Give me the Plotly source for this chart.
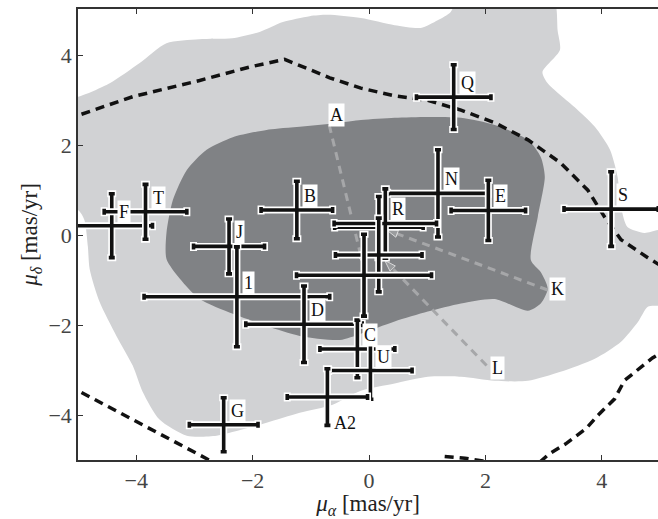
import plotly.graph_objects as go

# ---------------- data ----------------
# proper-motion crosses (mu_alpha, mu_delta) with errors
names = ["F", "T", "B", "J", "1", "D", "C", "U", "A2", "G", "Q", "N", "E", "S", "", "R", "", ""]
mu_a = [-4.42, -3.84, -1.24, -2.405, -2.27, -1.117, -0.20, 0.024, -0.715, -2.497, 1.455, 1.185, 2.05, 4.16, 0.17, 0.28, 0.167, -0.086]
mu_d = [0.21, 0.52, 0.56, -0.25, -1.37, -1.98, -2.53, -3.01, -3.60, -4.215, 3.07, 0.93, 0.55, 0.58, 0.18, 0.26, -0.44, -0.89]
err_a = [0.70, 0.71, 0.615, 0.61, 1.595, 1.00, 0.644, 0.716, 0.69, 0.59, 0.64, 0.865, 0.64, 0.81, 0.76, 0.88, 0.744, 1.16]
err_d = [0.71, 0.61, 0.64, 0.61, 1.11, 0.85, 0.64, 0.64, 0.63, 0.60, 0.72, 0.97, 0.67, 0.83, 0.68, 0.77, 0.82, 0.91]
labels_below = ["A2"]

# likelihood regions (outer = light, inner = dark)
outer_x = [-5.3, -5.0, -4.455, -3.94, -3.48, -2.92, -2.35, -1.88, -1.48, -1.02, -0.71, -0.14, 0.44, 0.89,
           1.18, 1.40, 1.50, 1.60, 3.10, 3.21, 3.24, 3.28, 2.98, 3.07, 3.53, 3.88, 4.14, 4.27, 4.33, 4.44,
           4.73, 5.00, 5.30, 5.30, 4.96, 4.79, 4.62, 4.33, 3.88, 3.29, 2.73, 2.16, 1.58, 1.01, 0.44, -0.14,
           -0.625, -1.19, -1.76, -2.20, -2.62, -3.13, -3.60, -3.89, -4.06, -4.34, -4.63, -4.80, -4.83, -4.89,
           -5.00, -5.30]
outer_y = [3.08, 3.08, 3.38, 3.83, 4.27, 4.36, 4.38, 4.52, 4.74, 4.87, 4.90, 4.83, 4.67, 4.61,
           4.78, 4.96, 5.20, 5.30, 5.30, 5.10, 4.56, 4.12, 3.63, 3.38, 2.85, 2.41, 1.90, 1.30, 0.63, 0.18,
           0.05, 0.12, 0.12, -1.57, -1.57, -1.59, -1.93, -2.37, -2.75, -3.04, -3.24, -3.24, -3.15, -3.15, -3.30, -3.46,
           -3.77, -3.95, -4.17, -4.33, -4.46, -4.46, -4.10, -3.48, -2.90, -2.24, -1.48, -0.75, -0.26, 0.34,
           0.56, 0.60]
inner_x = [-0.70, -0.14, 0.44, 1.01, 1.58, 2.16, 2.73, 2.95, 3.02, 2.90, 2.78, 2.95, 3.07, 2.95, 2.73, 2.16,
           1.58, 1.01, 0.44, -0.14, -0.50, -1.19, -1.76, -2.34, -2.91, -3.25, -3.48, -3.48, -3.37, -3.13,
           -2.79, -2.34, -1.76, -1.19]
inner_y = [2.47, 2.56, 2.61, 2.63, 2.61, 2.45, 2.12, 1.74, 1.30, 0.41, -0.55, -0.82, -1.19, -1.52, -1.68, -1.42,
           -1.52, -1.70, -1.92, -2.19, -2.33, -2.24, -2.02, -1.75, -1.42, -0.97, -0.53, 0.05, 0.78, 1.45,
           1.90, 2.18, 2.34, 2.41]

# dashed boundary curves
curve1_x = [-4.94, -4.06, -2.91, -2.05, -1.45, -0.675, -0.14, 0.44, 1.01, 1.58, 2.16, 2.73, 3.29, 3.76, 4.05, 4.33, 4.79, 5.10]
curve1_y = [2.69, 3.08, 3.44, 3.74, 3.91, 3.50, 3.27, 3.10, 3.00, 2.78, 2.50, 2.12, 1.61, 1.00, 0.40, -0.10, -0.50, -0.75]
curve2_x = [-4.94, -3.67, -2.79, -2.60]
curve2_y = [-3.50, -4.36, -4.97, -5.12]
curve3_x = [1.30, 1.65, 1.95, 2.40, 2.80, 3.10, 3.38, 3.73, 3.96, 4.22, 4.39, 4.65, 4.87, 5.10]
curve3_y = [-4.92, -4.96, -5.02, -5.40, -5.20, -4.86, -4.64, -4.30, -3.97, -3.64, -3.23, -2.96, -2.73, -2.55]

# grey arrows
arrow_names = ["A", "K", "L"]
arrow_x0 = [-0.684, 3.07, 2.02]
arrow_y0 = [2.45, -1.22, -2.90]
arrow_x1 = [-0.11, 0.30, 0.27]
arrow_y1 = [-0.62, 0.12, -0.56]
arrow_label_x = [-0.56, 3.24, 2.21]
arrow_label_y = [2.67, -1.20, -2.95]

x_ticks = [-4, -2, 0, 2, 4]
y_ticks = [-4, -2, 0, 2, 4]

# ---------------- figure ----------------
FONT = "Liberation Serif, Times New Roman, DejaVu Serif, serif"
LIGHT = "#d1d2d4"
DARK = "#808285"

fig = go.Figure()
fig.add_trace(go.Scatter(x=outer_x, y=outer_y, fill="toself", fillcolor=LIGHT, mode="lines",
                         line=dict(width=0, color=LIGHT, shape="spline", smoothing=0.7),
                         hoverinfo="skip", showlegend=False))
fig.add_trace(go.Scatter(x=inner_x, y=inner_y, fill="toself", fillcolor=DARK, mode="lines",
                         line=dict(width=0, color=DARK, shape="spline", smoothing=0.7),
                         hoverinfo="skip", showlegend=False))
for cx, cy in [(curve1_x, curve1_y), (curve2_x, curve2_y), (curve3_x, curve3_y)]:
    fig.add_trace(go.Scatter(x=cx, y=cy, mode="lines",
                             line=dict(color="#111", width=3.5, dash="9px,6px"),
                             hoverinfo="skip", showlegend=False))

for i in range(len(arrow_names)):
    fig.add_trace(go.Scatter(x=[arrow_x0[i], arrow_x1[i]], y=[arrow_y0[i], arrow_y1[i]],
                             mode="lines+markers",
                             line=dict(color="#a6a7a9", width=3, dash="8px,6px"),
                             marker=dict(symbol="arrow", angleref="previous", size=[0, 12],
                                         color="#a6a7a9"),
                             hoverinfo="skip", showlegend=False))

for i in range(len(names)):
    for col, th, wd in [("white", 7, 4.5), ("#111", 3.6, 3)]:
        fig.add_trace(go.Scatter(
            x=[mu_a[i]], y=[mu_d[i]], mode="markers",
            marker=dict(size=1, color=col, opacity=0),
            error_x=dict(type="data", array=[err_a[i]], color=col, thickness=th, width=wd),
            error_y=dict(type="data", array=[err_d[i]], color=col, thickness=th, width=wd),
            hoverinfo="skip", showlegend=False))

annotations = []
for i, nm in enumerate(names):
    if not nm:
        continue
    below = nm in labels_below
    annotations.append(dict(
        x=mu_a[i], y=mu_d[i], xref="x", yref="y", text=nm, showarrow=False,
        xanchor="left", yanchor="top" if below else "bottom",
        xshift=5, yshift=-14 if below else 2,
        bgcolor="white", borderpad=1,
        font=dict(family=FONT, size=18, color="#111")))
for i, nm in enumerate(arrow_names):
    annotations.append(dict(
        x=arrow_label_x[i], y=arrow_label_y[i], xref="x", yref="y", text=nm, showarrow=False,
        xanchor="center", yanchor="middle", bgcolor="white", borderpad=1,
        font=dict(family=FONT, size=18, color="#111")))

fig.update_layout(
    width=658, height=519,
    margin=dict(l=78, r=0, t=9, b=59),
    plot_bgcolor="white", paper_bgcolor="white",
    font=dict(family=FONT, color="#333"),
    annotations=annotations,
    showlegend=False,
)
fig.update_xaxes(range=[-5, 4.965], tickvals=x_ticks, ticks="inside", ticklen=5, tickwidth=1,
                 tickcolor="#333", showline=True, linecolor="#333", linewidth=1.5, mirror="ticks",
                 showgrid=False, zeroline=False, tickfont=dict(family=FONT, size=22, color="#444"),
                 title=dict(text="<i>μ</i><sub><i>α</i></sub> [mas/yr]", standoff=4,
                            font=dict(family=FONT, size=23, color="#222")))
fig.update_yaxes(range=[-5, 5.03], tickvals=y_ticks, ticks="inside", ticklen=5, tickwidth=1,
                 tickcolor="#333", showline=True, linecolor="#333", linewidth=1.5, mirror=False,
                 showgrid=False, zeroline=False, tickfont=dict(family=FONT, size=22, color="#444"),
                 title=dict(text="<i>μ</i><sub><i>δ</i></sub> [mas/yr]", standoff=4,
                            font=dict(family=FONT, size=23, color="#222")))

fig.write_html("out.html", config={"displayModeBar": False},
               post_script="document.body.style.margin='0px';")
